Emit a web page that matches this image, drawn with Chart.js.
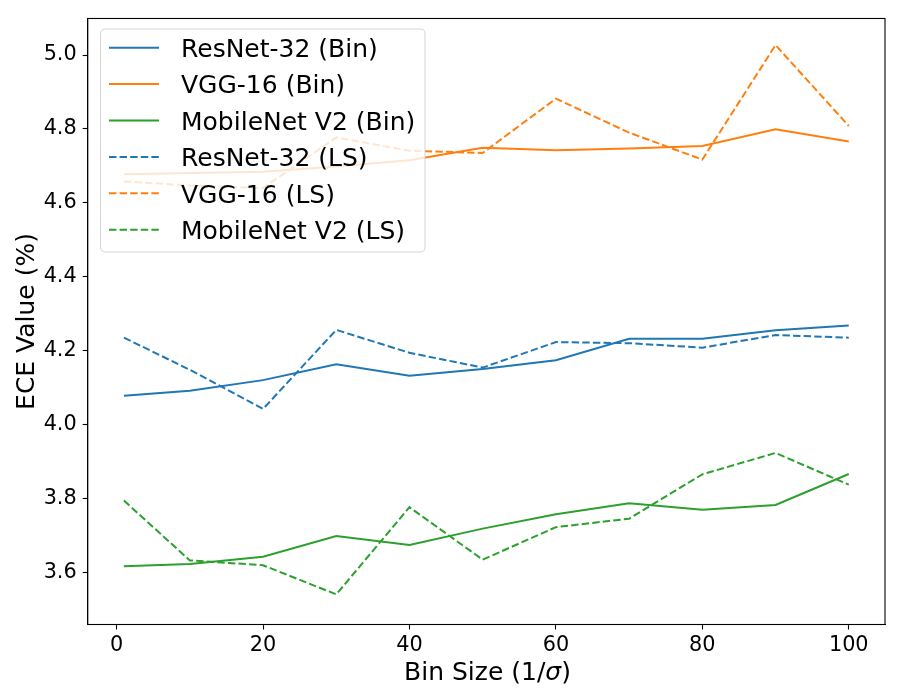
<!DOCTYPE html>
<html>
<head>
<meta charset="utf-8">
<script src="https://cdn.jsdelivr.net/npm/chart.js@4.4.1/dist/chart.umd.min.js"></script>
<style>
  html, body { margin: 0; padding: 0; background: #ffffff; }
  #wrap { width: 900px; height: 700px; }
</style>
</head>
<body>
<div id="wrap"><canvas id="c" width="900" height="700"></canvas></div>
<script>
// ---------------- data ----------------
const binSizes = [1, 10, 20, 30, 40, 50, 60, 70, 80, 90, 100];

const resnetBin = [4.078, 4.091, 4.120, 4.163, 4.132, 4.150, 4.174, 4.232, 4.232, 4.255, 4.268];
const vggBin    = [4.677, 4.681, 4.684, 4.698, 4.715, 4.749, 4.742, 4.747, 4.754, 4.799, 4.766];
const mobileBin = [3.616, 3.622, 3.642, 3.698, 3.674, 3.718, 3.757, 3.787, 3.769, 3.782, 3.866];
const resnetLS  = [4.235, 4.148, 4.042, 4.256, 4.194, 4.154, 4.223, 4.220, 4.208, 4.242, 4.235];
const vggLS     = [4.658, 4.647, 4.640, 4.777, 4.741, 4.735, 4.882, 4.790, 4.717, 5.027, 4.808];
const mobileLS  = [3.794, 3.632, 3.619, 3.540, 3.776, 3.634, 3.722, 3.745, 3.865, 3.923, 3.837];

const seriesLabels = [
  'ResNet-32 (Bin)', 'VGG-16 (Bin)', 'MobileNet V2 (Bin)',
  'ResNet-32 (LS)', 'VGG-16 (LS)', 'MobileNet V2 (LS)'
];
const seriesValues = [resnetBin, vggBin, mobileBin, resnetLS, vggLS, mobileLS];

const xTickValues = [0, 20, 40, 60, 80, 100];
const yTickValues = [3.6, 3.8, 4.0, 4.2, 4.4, 4.6, 4.8, 5.0];

const xTitleParts = ['Bin Size (1/', 'σ', ')'];
const yTitle = 'ECE Value (%)';

// ---------------- styles ----------------
const FONT = "'DejaVu Sans', 'Liberation Sans', sans-serif";
const seriesColors = ['#1f77b4', '#ff7f0e', '#2ca02c', '#1f77b4', '#ff7f0e', '#2ca02c'];
const seriesDashed = [false, false, false, true, true, true];
const DASH = [7.4, 3.2];

Chart.defaults.font.family = FONT;
Chart.defaults.color = '#000000';

const datasets = seriesValues.map((vals, i) => ({
  label: seriesLabels[i],
  data: binSizes.map((x, j) => ({ x: x, y: vals[j] })),
  borderColor: seriesColors[i],
  backgroundColor: seriesColors[i],
  borderWidth: 2,
  borderDash: seriesDashed[i] ? DASH : [],
  pointRadius: 0,
  tension: 0,
  fill: false,
  order: seriesValues.length - i
}));

// ---------------- decorations plugin ----------------
const decorPlugin = {
  id: 'decor',
  afterDatasetsDraw(chart) {
    const ctx = chart.ctx;
    const a = chart.chartArea;
    ctx.save();
    // full frame (spines)
    ctx.strokeStyle = '#000000';
    ctx.lineWidth = 1.1;
    ctx.setLineDash([]);
    ctx.strokeRect(a.left, a.top, a.right - a.left, a.bottom - a.top);

    // legend
    const L = { x: 100.5, y: 29, w: 324.5, h: 223, r: 5,
                row0: 47.7, step: 36.4, l0: 109, l1: 159, tx: 181 };
    ctx.beginPath();
    ctx.moveTo(L.x + L.r, L.y);
    ctx.lineTo(L.x + L.w - L.r, L.y);
    ctx.quadraticCurveTo(L.x + L.w, L.y, L.x + L.w, L.y + L.r);
    ctx.lineTo(L.x + L.w, L.y + L.h - L.r);
    ctx.quadraticCurveTo(L.x + L.w, L.y + L.h, L.x + L.w - L.r, L.y + L.h);
    ctx.lineTo(L.x + L.r, L.y + L.h);
    ctx.quadraticCurveTo(L.x, L.y + L.h, L.x, L.y + L.h - L.r);
    ctx.lineTo(L.x, L.y + L.r);
    ctx.quadraticCurveTo(L.x, L.y, L.x + L.r, L.y);
    ctx.closePath();
    ctx.fillStyle = 'rgba(255,255,255,0.8)';
    ctx.fill();
    ctx.strokeStyle = 'rgba(204,204,204,0.8)';
    ctx.lineWidth = 1;
    ctx.stroke();

    chart.data.datasets.forEach((ds, i) => {
      const y = L.row0 + i * L.step;
      ctx.beginPath();
      ctx.setLineDash(ds.borderDash || []);
      ctx.strokeStyle = ds.borderColor;
      ctx.lineWidth = ds.borderWidth;
      ctx.moveTo(L.l0, y);
      ctx.lineTo(L.l1, y);
      ctx.stroke();
      ctx.setLineDash([]);
      ctx.fillStyle = '#000000';
      ctx.font = '25px ' + FONT;
      ctx.textAlign = 'left';
      ctx.textBaseline = 'alphabetic';
      ctx.fillText(ds.label, L.tx, y + 9.2);
    });

    // x axis title with italic sigma
    ctx.font = '25px ' + FONT;
    const w0 = ctx.measureText(xTitleParts[0]).width;
    const w2 = ctx.measureText(xTitleParts[2]).width;
    ctx.font = 'italic 25px ' + FONT;
    const w1 = ctx.measureText(xTitleParts[1]).width;
    const total = w0 + w1 + w2;
    let cx = 487.5 - total / 2;
    const by = 680;
    ctx.fillStyle = '#000000';
    ctx.textBaseline = 'alphabetic';
    ctx.textAlign = 'left';
    ctx.font = '25px ' + FONT;
    ctx.fillText(xTitleParts[0], cx, by); cx += w0;
    ctx.font = 'italic 25px ' + FONT;
    ctx.fillText(xTitleParts[1], cx, by); cx += w1;
    ctx.font = '25px ' + FONT;
    ctx.fillText(xTitleParts[2], cx, by);

    // y axis title
    ctx.save();
    ctx.translate(34.3, (a.top + a.bottom) / 2);
    ctx.rotate(-Math.PI / 2);
    ctx.textAlign = 'center';
    ctx.textBaseline = 'alphabetic';
    ctx.font = '25px ' + FONT;
    ctx.fillText(yTitle, 0, 0);
    ctx.restore();

    ctx.restore();
  }
};

// ---------------- chart ----------------
const ctx = document.getElementById('c').getContext('2d');
new Chart(ctx, {
  type: 'line',
  data: { datasets: datasets },
  options: {
    responsive: false,
    animation: false,
    devicePixelRatio: 1,
    layout: { padding: { left: 0, top: 15.5, right: 15, bottom: 0 } },
    plugins: { legend: { display: false }, tooltip: { enabled: false }, title: { display: false } },
    scales: {
      x: {
        type: 'linear',
        min: -3.95,
        max: 104.95,
        afterBuildTicks: (s) => { s.ticks = xTickValues.map(v => ({ value: v })); },
        afterFit: (s) => { s.height = 75.5; },
        grid: { display: true, drawOnChartArea: false, drawTicks: true, tickLength: 5, color: '#000000', tickColor: '#000000', tickWidth: 1.1 },
        border: { display: true, color: '#000000', width: 1.1 },
        ticks: { font: { size: 20.8 }, color: '#000000', padding: 4, maxRotation: 0, autoSkip: false,
                 callback: (v) => String(v) }
      },
      y: {
        type: 'linear',
        min: 3.4585,
        max: 5.099,
        afterBuildTicks: (s) => { s.ticks = yTickValues.map(v => ({ value: v })); },
        afterFit: (s) => { s.width = 87.7; },
        grid: { display: true, drawOnChartArea: false, drawTicks: true, tickLength: 5, color: '#000000', tickColor: '#000000', tickWidth: 1.1 },
        border: { display: true, color: '#000000', width: 1.1 },
        ticks: { font: { size: 20.8 }, color: '#000000', padding: 6, autoSkip: false,
                 callback: (v) => Number(v).toFixed(1) }
      }
    }
  },
  plugins: [decorPlugin]
});
</script>
</body>
</html>
